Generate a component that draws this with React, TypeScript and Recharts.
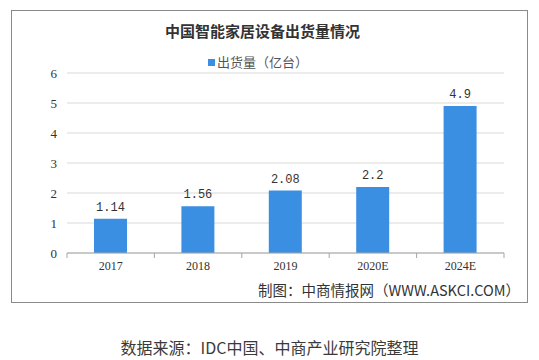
import React from 'react';
import { BarChart, Bar, XAxis, YAxis, CartesianGrid, LabelList } from 'recharts';

const years = ['2017', '2018', '2019', '2020E', '2024E'];
const shipments = [1.14, 1.56, 2.08, 2.2, 4.9];
const yTicks = [0, 1, 2, 3, 4, 5, 6];

const chartTitle = '中国智能家居设备出货量情况';
const legendName = '出货量（亿台）';
const madeBy = '制图：中商情报网（WWW.ASKCI.COM）';
const sourceNote = '数据来源：IDC中国、中商产业研究院整理';

const data = years.map((year, i) => ({ year, value: shipments[i] }));

const BAR_COLOR = '#3b8fe3';
const CJK = '"Noto Sans CJK SC", "Noto Sans", sans-serif';
const NUM = '"Liberation Mono", monospace';
const SERIF = '"Liberation Serif", serif';

// year label plus the little tick marks that sit between the categories
const YearTick = (props: any) => {
  const { x, y, payload, index } = props;
  const half = payload && payload.offset ? payload.offset : 43.7;
  const axisY = y - 8;
  return (
    <g>
      <line x1={x - half} x2={x - half} y1={axisY} y2={axisY + 5} stroke="#a6a6a6" />
      {index === years.length - 1 && (
        <line x1={x + half} x2={x + half} y1={axisY} y2={axisY + 5} stroke="#a6a6a6" />
      )}
      <text x={x} y={y} dy="0.71em" textAnchor="middle" fill="#333" fontSize={12} fontFamily={SERIF}>
        {payload.value}
      </text>
    </g>
  );
};

const App: React.FC = () => {
  return (
    <div style={{ position: 'absolute', left: 0, top: 0, width: 539, height: 360, background: '#fff' }}>
      <div
        style={{
          position: 'absolute', left: 11, top: 10, width: 517, height: 293,
          border: '1px solid #8a8a8a', boxSizing: 'border-box',
        }}
      />
      <div
        style={{
          position: 'absolute', left: 0, top: 20, width: 525, lineHeight: '22px',
          textAlign: 'center', fontFamily: CJK, fontWeight: 700, fontSize: 15, color: '#333',
        }}
      >
        {chartTitle}
      </div>
      <div
        style={{
          position: 'absolute', left: 0, top: 53, width: 516, lineHeight: '18px',
          textAlign: 'center', fontFamily: CJK, fontSize: 13, color: '#555',
        }}
      >
        <span style={{ display: 'inline-block', width: 7, height: 7, background: BAR_COLOR, marginRight: 2, verticalAlign: 'middle', position: 'relative', top: -1 }} />
        {legendName}
      </div>

      <BarChart
        width={539}
        height={360}
        data={data}
        margin={{ top: 73, right: 35, bottom: 77, left: 11 }}
        style={{ position: 'absolute', left: 0, top: 0 }}
      >
        <CartesianGrid vertical={false} stroke="#d9d9d9" />
        <XAxis
          dataKey="year"
          height={30}
          axisLine={{ stroke: '#a6a6a6' }}
          tickLine={false}
          tickSize={5}
          tickMargin={3}
          interval={0}
          tick={<YearTick />}
        />
        <YAxis
          width={56}
          domain={[0, 6]}
          ticks={yTicks}
          axisLine={false}
          tickLine={false}
          tickMargin={4}
          tick={{ fill: '#333', fontSize: 13, fontFamily: SERIF }}
        />
        <Bar dataKey="value" fill={BAR_COLOR} barSize={33} isAnimationActive={false}>
          <LabelList dataKey="value" position="top" offset={8} fill="#333" fontSize={12} fontFamily={NUM} />
        </Bar>
      </BarChart>

      <div
        style={{
          position: 'absolute', right: 19, top: 281, lineHeight: '18px',
          fontFamily: CJK, fontSize: 14.5, color: '#333', whiteSpace: 'nowrap',
        }}
      >
        {madeBy}
      </div>
      <div
        style={{
          position: 'absolute', left: 0, top: 336, width: 539, lineHeight: '22px',
          textAlign: 'center', fontFamily: CJK, fontSize: 16, color: '#3a3a3a',
        }}
      >
        {sourceNote}
      </div>
    </div>
  );
};

export default App;
